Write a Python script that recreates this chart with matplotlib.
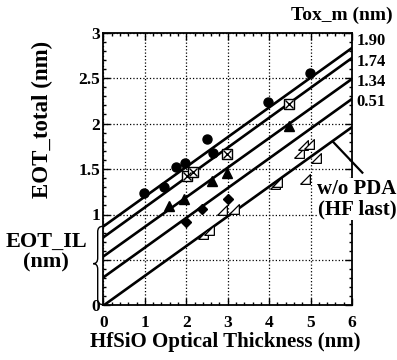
import matplotlib
matplotlib.use('Agg')
import matplotlib.pyplot as plt
from matplotlib.path import Path
from matplotlib.patches import PathPatch
from matplotlib.ticker import MultipleLocator

plt.rcParams['font.family'] = ['Liberation Serif', 'DejaVu Serif']
plt.rcParams['font.weight'] = 'bold'

# fitted lines: EOT_total at HfSiO = 0 nm and at 6 nm
line_y0 = [0.87, 0.75, 0.54, 0.31, 0.0]
line_y6 = [2.83, 2.72, 2.49, 2.27, 1.96]
tox_labels = ['1.90', '1.74', '1.34', '0.51']
tox_label_y = [2.91, 2.68, 2.46, 2.24]

# measured points
circ_x = [0.98, 1.47, 1.76, 1.97, 2.51, 2.65, 3.97, 4.98]
circ_y = [1.24, 1.30, 1.52, 1.57, 1.83, 1.68, 2.24, 2.55]
boxx_x = [2.02, 2.16, 2.98, 4.49]
boxx_y = [1.42, 1.47, 1.67, 2.21]
tri_x = [1.57, 1.95, 2.61, 2.98, 4.49]
tri_y = [1.09, 1.17, 1.37, 1.46, 1.97]
dia_x = [1.99, 2.38, 3.00]
dia_y = [0.92, 1.06, 1.17]
rtri_x = [2.40, 2.55, 2.87, 3.16, 4.13, 4.20, 4.73, 4.81, 4.96, 5.14, 4.86]
rtri_y = [0.79, 0.83, 1.05, 1.06, 1.34, 1.36, 1.68, 1.76, 1.78, 1.62, 1.39]

fig = plt.figure(figsize=(3.97, 3.6), dpi=100)
ax = fig.add_axes([0.2607, 0.1514, 0.6259, 0.7583])

for y0, y6 in zip(line_y0, line_y6):
    ax.plot([0, 6], [y0, y6], color='black', lw=1.9, zorder=3)

ms = 6.5
ax.plot(circ_x, circ_y, 'o', color='black', ms=ms, zorder=4)
ax.plot(boxx_x, boxx_y, 's', mfc='white', mec='black', mew=1.0, ms=ms, zorder=4)
ax.plot(boxx_x, boxx_y, 'x', color='black', mew=1.0, ms=ms * 0.95, zorder=5)
ax.plot(tri_x, tri_y, '^', color='black', ms=ms + 0.5, zorder=4)
ax.plot(dia_x, dia_y, 'D', color='black', ms=ms - 1.0, zorder=4)
rtri = [(-1, -1), (1, -1), (1, 1), (-1, -1)]
ax.plot(rtri_x, rtri_y, linestyle='none', marker=rtri, mfc='white', mec='black',
        mew=0.9, ms=ms + 0.5, zorder=4)

ax.set_xlim(0, 6)
ax.set_ylim(0, 3)
ax.xaxis.set_major_locator(MultipleLocator(1))
ax.xaxis.set_minor_locator(MultipleLocator(0.2))
ax.yaxis.set_minor_locator(MultipleLocator(0.1))
ax.set_yticks([0, 0.5, 1, 1.5, 2, 2.5, 3])
ax.set_yticklabels(['0', '', '1', '1.5', '2', '2.5', '3'])
ax.tick_params(which='both', direction='in', top=True, right=True,
               labelsize=12.5, width=1.0)
ax.tick_params(which='major', length=5)
ax.tick_params(which='minor', length=2.5)
ax.tick_params(axis='x', which='major', pad=7)
ax.tick_params(axis='y', which='major', pad=2.5)
for lab in ax.get_xticklabels() + ax.get_yticklabels():
    lab.set_fontweight('bold')
for sp in ax.spines.values():
    sp.set_linewidth(1.3)
ax.grid(True, which='major', linestyle=':', color='black', lw=0.9)

ax.set_xlabel('HfSiO Optical Thickness (nm)', fontsize=15, fontweight='bold')
ax.xaxis.set_label_coords(0.49, -0.097)
ax.set_ylabel('EOT_total (nm)', fontsize=16.5, fontweight='bold')
ax.yaxis.set_label_coords(-0.205, 0.68)

# Tox_m labels next to the line ends
fig.text(0.99, 0.958, 'Tox_m (nm)', fontsize=14, fontweight='bold',
         ha='right', va='center')
for lab, ly in zip(tox_labels, tox_label_y):
    ax.text(6.11, ly, lab, fontsize=12, fontweight='bold', ha='left',
            va='center', clip_on=False)

# callout for the HF-last line
ax.plot([5.54, 6.25], [1.80, 1.46], color='black', lw=1.6, clip_on=False, zorder=3)
ax.text(6.12, 1.165, 'w/o PDA\n(HF last)', fontsize=15, fontweight='bold',
        ha='center', va='center', multialignment='center', linespacing=1.05,
        clip_on=False, zorder=6,
        bbox=dict(facecolor='white', edgecolor='none', pad=0.5))

# interfacial-layer brace on the left axis
xr, xb, xt = -0.02, -0.14, -0.25
yt, ym, yb, d = 0.87, 0.46, 0.01, 0.06
verts = [(xr, yt), (xb, yt), (xb, yt - d),
         (xb, ym + d), (xb, ym), (xt, ym),
         (xb, ym), (xb, ym - d),
         (xb, yb + d), (xb, yb), (xr, yb)]
codes = [Path.MOVETO, Path.CURVE3, Path.CURVE3,
         Path.LINETO, Path.CURVE3, Path.CURVE3,
         Path.CURVE3, Path.CURVE3,
         Path.LINETO, Path.CURVE3, Path.CURVE3]
ax.add_patch(PathPatch(Path(verts, codes), facecolor='none', edgecolor='black',
                       lw=1.0, clip_on=False))
fig.text(0.116, 0.300, 'EOT_IL\n(nm)', fontsize=16, fontweight='bold',
         ha='center', va='center', linespacing=1.0)

fig.savefig('out.png', dpi=100)
